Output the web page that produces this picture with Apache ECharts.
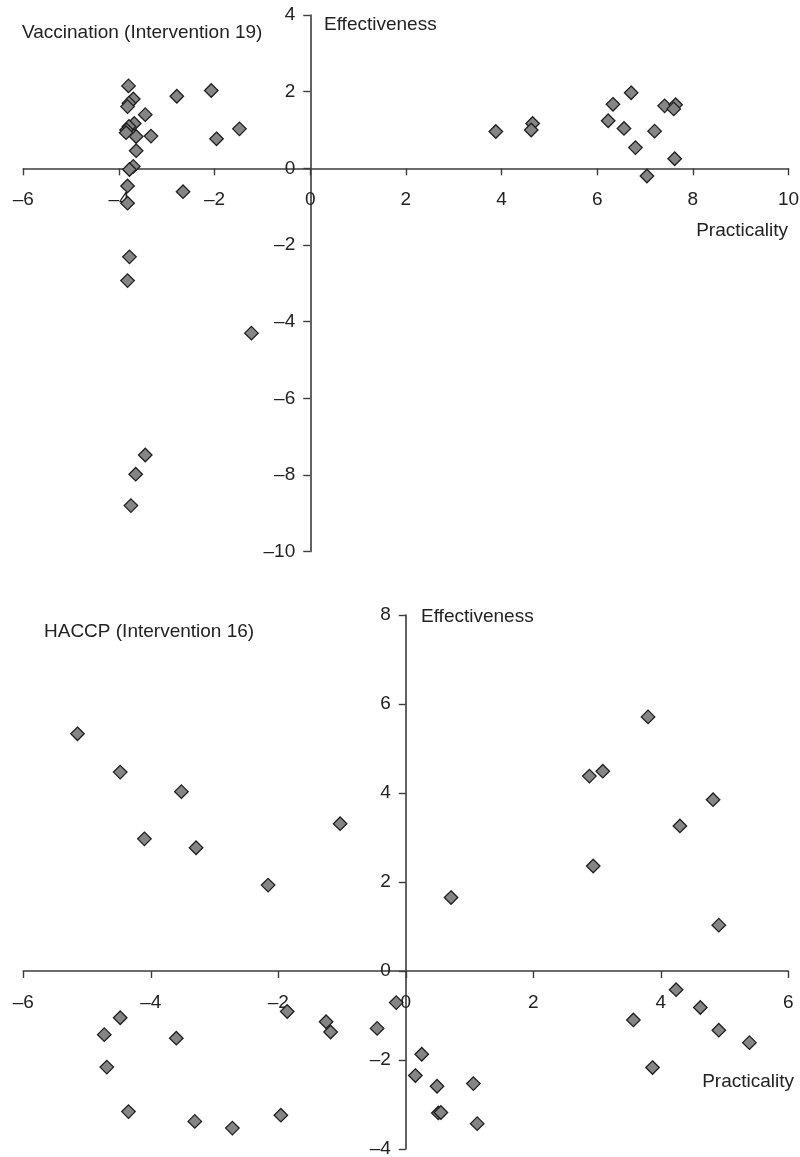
<!DOCTYPE html>
<html><head><meta charset="utf-8">
<script src="https://cdn.jsdelivr.net/npm/echarts/dist/echarts.min.js"></script>
<style>html,body{margin:0;padding:0;background:#fff}#c{width:800px;height:1157px}</style>
</head><body><div id="c"></div>
<script>
// Vaccination (Intervention 19)
const vaccPracticality = [
  -3.80, -3.70, -3.79, -3.82, -3.45, -2.79, -2.07, -1.48, -1.96, -3.33,
  -3.68, -3.79, -3.84, -3.85, -3.64, -3.64, -3.70, -3.78, -3.82, -2.66,
  -3.82, -3.78, -3.82, -1.23, -3.45, -3.65, -3.75,
  3.88, 4.65, 4.62, 6.33, 6.71, 6.23, 6.56, 6.80, 7.04, 7.20, 7.41, 7.64, 7.60, 7.62
];
const vaccEffectiveness = [
  2.15, 1.81, 1.70, 1.61, 1.40, 1.88, 2.03, 1.03, 0.77, 0.84,
  1.17, 1.09, 1.00, 0.93, 0.83, 0.46, 0.05, -0.03, -0.46, -0.61,
  -0.91, -2.31, -2.93, -4.30, -7.48, -7.98, -8.80,
  0.96, 1.17, 1.00, 1.67, 1.97, 1.24, 1.04, 0.54, -0.20, 0.97, 1.63, 1.66, 1.55, 0.25
];
// HACCP (Intervention 16)
const haccpPracticality = [
  -5.15, -4.48, -3.52, -1.03, -4.10, -3.29, -2.16,
  -4.48, -4.73, -3.60, -4.69, -4.35, -3.31, -2.72, -1.96,
  -1.86, -1.25, -1.18, -0.45, -0.15,
  3.80, 2.88, 3.09, 4.82, 4.30, 2.94, 0.71, 4.91,
  4.24, 4.62, 3.57, 4.91, 5.39, 3.87,
  0.25, 0.15, 0.49, 1.06, 0.51, 0.55, 1.12
];
const haccpEffectiveness = [
  5.33, 4.47, 4.03, 3.31, 2.97, 2.77, 1.93,
  -1.05, -1.43, -1.51, -2.16, -3.16, -3.38, -3.53, -3.24,
  -0.91, -1.14, -1.37, -1.29, -0.71,
  5.71, 4.38, 4.49, 3.85, 3.26, 2.36, 1.65, 1.03,
  -0.42, -0.82, -1.10, -1.33, -1.61, -2.17,
  -1.87, -2.35, -2.59, -2.53, -3.19, -3.18, -3.43
];
const topXTicks = {min: -6, max: 10, step: 2};
const topYTicks = {min: -10, max: 4, step: 2};
const botXTicks = {min: -6, max: 6, step: 2};
const botYTicks = {min: -4, max: 8, step: 2};

const FONT = '"Liberation Sans", Arial, Helvetica, sans-serif';
const TXT = '#222';
const AX = '#3c3c3c';
const zip = (a, b) => a.map((v, i) => [v, b[i]]);
const fmt = v => String(v).replace('-', '\u2013');

function xAxis(g, t) {
  return {
    type: 'value', gridIndex: g, min: t.min, max: t.max, interval: t.step,
    position: 'bottom', offset: 0,
    splitLine: {show: false},
    axisLine: {onZero: false, lineStyle: {color: AX, width: 1.6}},
    axisTick: {length: 7, lineStyle: {color: AX, width: 1.4}},
    axisLabel: {margin: 22, fontSize: 19, color: TXT, fontFamily: FONT, formatter: fmt,
      showMinLabel: true, showMaxLabel: true, hideOverlap: false}
  };
}
function yAxis(g, t) {
  return {
    type: 'value', gridIndex: g, min: t.min, max: t.max, interval: t.step,
    position: 'left', offset: 0,
    splitLine: {show: false},
    axisLine: {onZero: false, lineStyle: {color: AX, width: 1.6}},
    axisTick: {length: 7, lineStyle: {color: AX, width: 1.4}},
    axisLabel: {margin: 15, fontSize: 19, color: TXT, fontFamily: FONT, formatter: fmt,
      showMinLabel: true, showMaxLabel: true, hideOverlap: false}
  };
}
const marker = {
  type: 'scatter', symbol: 'diamond', symbolSize: 13.5,
  itemStyle: {color: '#858585', borderColor: '#1e1e1e', borderWidth: 1.3, opacity: 1},
  emphasis: {disabled: true}
};
function label(text, x, y, align) {
  return {type: 'text', x: x, y: y, silent: true,
    style: {text: text, fill: TXT, font: '19px ' + FONT, align: align || 'left', verticalAlign: 'middle'}};
}

const grids = [
  {left: 23.3, top: 15, width: 765.2, height: 536.6, outerBoundsMode: 'none', containLabel: false},
  {left: 23.3, top: 615, width: 765, height: 534, outerBoundsMode: 'none', containLabel: false}
];

const chart = echarts.init(document.getElementById('c'), null, {renderer: 'canvas'});
chart.setOption({
  animation: false,
  backgroundColor: '#fff',
  grid: grids,
  xAxis: [xAxis(0, topXTicks), xAxis(1, botXTicks)],
  yAxis: [yAxis(0, topYTicks), yAxis(1, botYTicks)],
  series: [
    Object.assign({}, marker, {xAxisIndex: 0, yAxisIndex: 0, data: zip(vaccPracticality, vaccEffectiveness)}),
    Object.assign({}, marker, {xAxisIndex: 1, yAxisIndex: 1, data: zip(haccpPracticality, haccpEffectiveness)})
  ],
  graphic: [
    label('Vaccination (Intervention 19)', 22, 33),
    label('Effectiveness', 324, 25),
    label('Practicality', 788, 231, 'right'),
    label('HACCP (Intervention 16)', 44, 632),
    label('Effectiveness', 421, 617),
    label('Practicality', 794, 1082, 'right')
  ]
});

// Move both axes of each grid so they cross at the origin (0, 0), labels included.
const xa = [], ya = [];
grids.forEach((g, i) => {
  const p = chart.convertToPixel({gridIndex: i}, [0, 0]);
  const left = g.left, bottom = g.top + g.height;
  ya.push({offset: -(p[0] - left)});
  xa.push({offset: -(bottom - p[1])});
});
chart.setOption({xAxis: xa, yAxis: ya});
</script>
</body></html>
